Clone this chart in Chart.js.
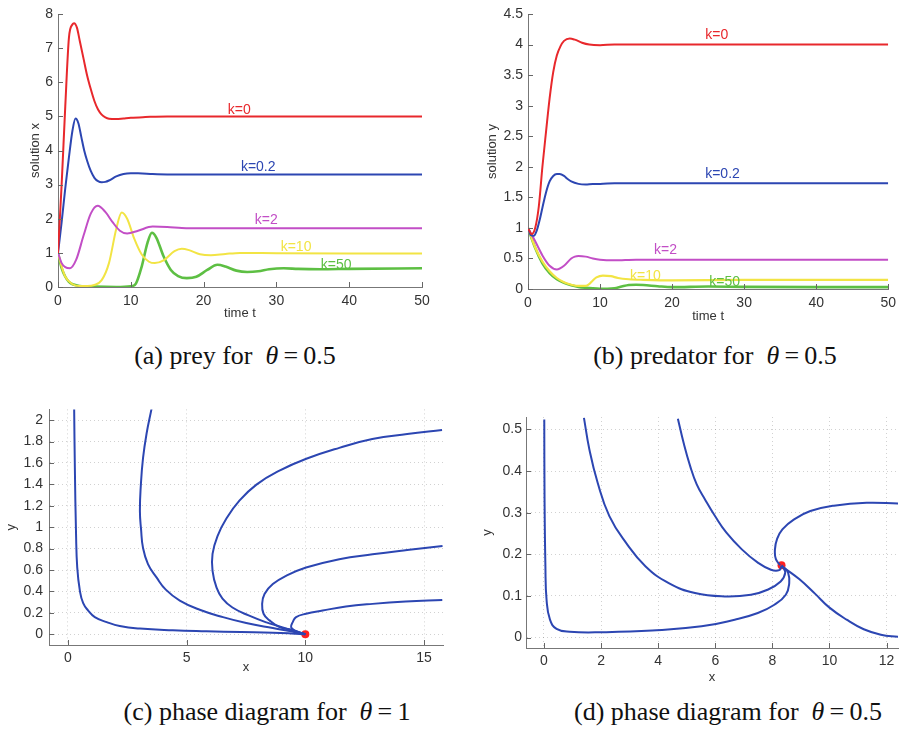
<!DOCTYPE html>
<html>
<head>
<meta charset="utf-8">
<script src="https://cdn.jsdelivr.net/npm/chart.js@4/dist/chart.umd.min.js"></script>
<style>
    body { margin: 0; background: #fff; }
    #page { position: relative; width: 902px; height: 729px; overflow: hidden; }
    .panel { position: absolute; }
    .caption {
        position: absolute; width: 420px; text-align: center;
        font-family: "Liberation Serif", "Times New Roman", serif;
        font-size: 26px; line-height: 26px; color: #111; white-space: nowrap;
    }
</style>
</head>
<body>
<div id="page">
    <canvas class="panel" id="chartA" width="450" height="330" style="left:0;top:0"></canvas>
    <canvas class="panel" id="chartB" width="452" height="330" style="left:450px;top:0"></canvas>
    <canvas class="panel" id="chartC" width="450" height="290" style="left:0;top:395px"></canvas>
    <canvas class="panel" id="chartD" width="452" height="290" style="left:450px;top:395px"></canvas>
    <div class="caption" style="left:25px;top:343px">(a) prey for&nbsp;&nbsp;<i>θ</i>&thinsp;=&thinsp;0.5</div>
    <div class="caption" style="left:505px;top:343px">(b) predator for&nbsp;&nbsp;<i>θ</i>&thinsp;=&thinsp;0.5</div>
    <div class="caption" style="left:57px;top:699px">(c) phase diagram for&nbsp;&nbsp;<i>θ</i>&thinsp;=&thinsp;1</div>
    <div class="caption" style="left:518px;top:699px">(d) phase diagram for&nbsp;&nbsp;<i>θ</i>&thinsp;=&thinsp;0.5</div>
</div>
<script>
// colours of the k curves
const RED = '#e8282c', BLUE = '#2c46b2', MAGENTA = '#c24ec6', YELLOW = '#f2e444', GREEN = '#5dbf43';

// tick values
const timeTicks = [0, 10, 20, 30, 40, 50];
const preyTicks = [0, 1, 2, 3, 4, 5, 6, 7, 8];
const predTicks = [0, 0.5, 1, 1.5, 2, 2.5, 3, 3.5, 4, 4.5];
const cXTicks = [0, 5, 10, 15];
const cYTicks = [0, 0.2, 0.4, 0.6, 0.8, 1, 1.2, 1.4, 1.6, 1.8, 2];
const dXTicks = [0, 2, 4, 6, 8, 10, 12];
const dYTicks = [0, 0.1, 0.2, 0.3, 0.4, 0.5];

// (a) prey x(t)
const preyT_k0 = [0, 0.5, 1, 1.5, 2, 2.2, 2.6, 3, 3.5, 4, 4.5, 5, 5.5, 6, 6.5, 7, 8, 9, 10, 12, 15, 20, 30, 40, 50];
const preyX_k0 = [1, 3.0, 5.3, 7.3, 7.7, 7.73, 7.6, 7.2, 6.7, 6.2, 5.8, 5.45, 5.2, 5.05, 4.97, 4.93, 4.92, 4.94, 4.96, 4.98, 5.0, 5.0, 5.0, 5.0, 5.0];
const preyT_k02 = [0, 0.5, 1, 1.5, 2, 2.4, 2.8, 3.2, 3.6, 4, 4.5, 5, 5.5, 6, 6.5, 7, 8, 9, 10, 11, 13, 15, 20, 30, 40, 50];
const preyX_k02 = [1, 1.9, 2.9, 3.8, 4.6, 4.94, 4.8, 4.4, 4.0, 3.7, 3.4, 3.2, 3.1, 3.07, 3.08, 3.12, 3.24, 3.31, 3.33, 3.33, 3.31, 3.3, 3.3, 3.3, 3.3, 3.3];
const preyT_k2 = [0, 0.5, 1, 1.65, 2.5, 3.5, 4.5, 5.45, 6.5, 7.5, 8.5, 9.5, 11, 13, 15, 17, 20, 30, 40, 50];
const preyX_k2 = [1, 0.7, 0.58, 0.55, 0.8, 1.5, 2.15, 2.38, 2.2, 1.9, 1.65, 1.57, 1.65, 1.77, 1.76, 1.73, 1.72, 1.72, 1.72, 1.72];
const preyT_k10 = [0, 0.5, 1, 2, 3, 4, 5, 6, 7, 8, 8.75, 9.5, 10.5, 11.5, 12.5, 13.3, 14.5, 16, 17, 18, 19.5, 21, 23, 25, 30, 40, 50];
const preyX_k10 = [1, 0.6, 0.3, 0.08, 0.03, 0.03, 0.06, 0.2, 0.7, 1.7, 2.18, 2.0, 1.4, 0.95, 0.74, 0.7, 0.78, 1.05, 1.12, 1.08, 0.96, 0.93, 0.97, 1.0, 0.99, 0.98, 0.98];
const preyT_k50 = [0, 0.5, 1, 1.5, 2, 3, 5, 8, 10, 10.7, 11.5, 12.3, 12.9, 13.5, 14.5, 15.5, 16.5, 17.7, 19, 20.5, 21.9, 23, 24.5, 26, 27.5, 29, 31, 33, 36, 40, 50];
const preyX_k50 = [1, 0.55, 0.3, 0.15, 0.08, 0.03, 0.01, 0.0, 0.02, 0.1, 0.6, 1.3, 1.59, 1.45, 0.9, 0.5, 0.32, 0.26, 0.3, 0.5, 0.65, 0.6, 0.48, 0.44, 0.46, 0.52, 0.55, 0.53, 0.52, 0.53, 0.55];

// (b) predator y(t)
const predT_k0 = [0, 0.5, 1, 1.5, 2, 2.5, 3, 3.5, 4, 4.5, 5, 5.8, 6.5, 7.5, 8.5, 10, 12, 15, 20, 30, 40, 50];
const predY_k0 = [1, 0.9, 1.0, 1.35, 2.0, 2.57, 3.12, 3.55, 3.82, 3.97, 4.06, 4.1, 4.08, 4.03, 4.0, 3.99, 4.0, 4.0, 4.0, 4.0, 4.0, 4.0];
const predT_k02 = [0, 0.4, 0.8, 1.2, 1.6, 2, 2.5, 3, 3.5, 4, 4.4, 5, 5.5, 6, 7, 8, 9, 10, 12, 15, 20, 30, 40, 50];
const predY_k02 = [1, 0.88, 0.87, 0.95, 1.12, 1.33, 1.58, 1.76, 1.85, 1.88, 1.88, 1.85, 1.8, 1.76, 1.72, 1.71, 1.72, 1.72, 1.73, 1.73, 1.73, 1.73, 1.73, 1.73];
const predT_k2 = [0, 1, 2, 3, 4, 5, 6, 6.5, 7, 8, 9, 10, 12, 15, 20, 30, 40, 50];
const predY_k2 = [1, 0.78, 0.55, 0.38, 0.32, 0.38, 0.5, 0.53, 0.54, 0.53, 0.5, 0.48, 0.47, 0.48, 0.48, 0.48, 0.48, 0.48];
const predT_k10 = [0, 1, 2, 3, 4, 5, 6, 7, 8, 8.5, 9, 9.5, 10.4, 11.5, 12.5, 14, 16, 20, 30, 40, 50];
const predY_k10 = [1, 0.68, 0.45, 0.29, 0.18, 0.11, 0.07, 0.05, 0.05, 0.08, 0.14, 0.19, 0.22, 0.21, 0.18, 0.16, 0.15, 0.14, 0.15, 0.15, 0.15];
const predT_k50 = [0, 1, 2, 3, 4, 5, 6, 7, 8, 9, 10, 11, 12, 13, 14, 15, 16, 18, 20, 25, 30, 40, 50];
const predY_k50 = [1, 0.67, 0.42, 0.26, 0.16, 0.1, 0.06, 0.035, 0.02, 0.01, 0.005, 0.005, 0.012, 0.04, 0.065, 0.07, 0.065, 0.045, 0.03, 0.04, 0.035, 0.03, 0.03];

// curve labels: text, t, value, colour
const preyLabels = [['k=0', 24.9, 5.19, RED], ['k=0.2', 27.5, 3.52, BLUE], ['k=2', 28.6, 1.96, MAGENTA], ['k=10', 32.7, 1.17, YELLOW], ['k=50', 38.2, 0.65, GREEN]];
const predLabels = [['k=0', 26.2, 4.16, RED], ['k=0.2', 27, 1.88, BLUE], ['k=2', 19.1, 0.63, MAGENTA], ['k=10', 16.3, 0.21, YELLOW], ['k=50', 27.3, 0.12, GREEN]];

// (c) phase diagram, theta = 1
const c1x = [0.26, 0.29, 0.34, 0.39, 0.5, 0.64, 0.85, 1.13, 1.63, 2.18, 3.03, 4.42, 5.83, 7.3, 8.63, 9.4, 10];
const c1y = [2.105, 1.549, 0.932, 0.623, 0.407, 0.29, 0.222, 0.16, 0.114, 0.077, 0.053, 0.037, 0.028, 0.021, 0.015, 0.008, 0];
const c2x = [3.52, 3.31, 3.16, 3.07, 3.03, 3.08, 3.16, 3.37, 3.73, 4.12, 4.71, 5.55, 6.53, 7.51, 8.63, 9.33, 10];
const c2y = [2.105, 1.873, 1.642, 1.395, 1.148, 0.977, 0.808, 0.655, 0.531, 0.417, 0.315, 0.229, 0.16, 0.105, 0.058, 0.031, 0];
const c3x = [15.76, 14.29, 12.82, 11.43, 10.04, 8.91, 7.94, 7.23, 6.68, 6.3, 6.09, 6.09, 6.26, 6.51, 6.93, 7.61, 8.36, 8.91, 9.45, 10];
const c3y = [1.907, 1.87, 1.824, 1.741, 1.639, 1.528, 1.398, 1.25, 1.083, 0.917, 0.75, 0.593, 0.435, 0.333, 0.25, 0.176, 0.111, 0.074, 0.037, 0];
const c4x = [15.78, 14.29, 12.83, 11.43, 10.03, 9.19, 8.63, 8.28, 8.18, 8.24, 8.49, 8.91, 9.47, 10];
const c4y = [0.824, 0.787, 0.747, 0.701, 0.623, 0.546, 0.469, 0.377, 0.284, 0.192, 0.13, 0.068, 0.037, 0];
const c5x = [15.77, 14.23, 12.83, 11.71, 10.73, 10.03, 9.61, 9.47, 9.4, 9.54, 9.75, 10];
const c5y = [0.321, 0.306, 0.284, 0.259, 0.222, 0.192, 0.16, 0.114, 0.068, 0.037, 0.014, 0];
const cEquil = [10, 0];

// (d) phase diagram, theta = 0.5
const dAx = [0.01, 0.02, 0.05, 0.09, 0.21, 0.44, 0.9, 2.06, 3.79, 5.52, 6.68, 7.49, 8.07, 8.47, 8.59, 8.55, 8.41];
const dAy = [0.524, 0.332, 0.171, 0.091, 0.043, 0.021, 0.014, 0.013, 0.017, 0.027, 0.043, 0.059, 0.079, 0.103, 0.131, 0.156, 0.168];
const dBx = [1.4, 1.59, 1.88, 2.29, 2.87, 3.56, 4.37, 5.29, 6.33, 7.25, 7.83, 8.29, 8.45, 8.35];
const dBy = [0.528, 0.452, 0.372, 0.292, 0.228, 0.171, 0.131, 0.107, 0.099, 0.103, 0.115, 0.135, 0.156, 0.171];
const dCx = [4.69, 4.89, 5.12, 5.35, 5.64, 5.99, 6.39, 6.93, 7.49, 7.95, 8.24, 8.32];
const dCy = [0.526, 0.468, 0.412, 0.368, 0.332, 0.292, 0.252, 0.212, 0.18, 0.163, 0.162, 0.172];
const dDx = [12.41, 11.3, 10.15, 9.33, 8.76, 8.35, 8.16, 8.09, 8.12, 8.27];
const dDy = [0.322, 0.324, 0.317, 0.304, 0.284, 0.26, 0.236, 0.212, 0.189, 0.174];
const dEx = [8.32, 8.41, 8.95, 9.5, 10.0, 10.6, 11.2, 11.8, 12.41];
const dEy = [0.174, 0.168, 0.14, 0.105, 0.072, 0.043, 0.02, 0.007, 0.002];
const dEquil = [8.32, 0.174];

const SANS = '"Liberation Sans", Arial, sans-serif';
const TICK_COLOR = '#333';

function toPts(xs, ys) {
    return xs.map((x, i) => ({ x: x, y: ys[i] }));
}

function fmt(v) {
    return String(+v.toFixed(2));
}

// MATLAB style tick marks pointing into the plot
const innerTicks = {
    id: 'innerTicks',
    afterDraw(chart) {
        const ctx = chart.ctx;
        const area = chart.chartArea;
        const xs = chart.scales.x, ys = chart.scales.y;
        ctx.save();
        ctx.strokeStyle = '#666';
        ctx.lineWidth = 1;
        ctx.beginPath();
        xs.ticks.forEach(t => {
            const p = Math.round(xs.getPixelForValue(t.value)) + 0.5;
            ctx.moveTo(p, area.bottom);
            ctx.lineTo(p, area.bottom - 5);
        });
        ys.ticks.forEach(t => {
            const p = Math.round(ys.getPixelForValue(t.value)) + 0.5;
            ctx.moveTo(area.left, p);
            ctx.lineTo(area.left + 5, p);
        });
        ctx.stroke();
        ctx.restore();
    }
};

// k=... labels written next to the curves
const curveLabels = {
    id: 'curveLabels',
    afterDatasetsDraw(chart, args, opts) {
        const items = opts.items || [];
        const ctx = chart.ctx;
        ctx.save();
        ctx.font = '14px ' + SANS;
        ctx.textAlign = 'center';
        ctx.textBaseline = 'middle';
        items.forEach(it => {
            ctx.fillStyle = it[3];
            ctx.fillText(it[0], chart.scales.x.getPixelForValue(it[1]), chart.scales.y.getPixelForValue(it[2]));
        });
        ctx.restore();
    }
};

function line(xs, ys, color, width, mono) {
    return {
        data: toPts(xs, ys),
        showLine: true,
        borderColor: color,
        borderWidth: width,
        pointRadius: 0,
        tension: mono ? 0.4 : 0.45,
        cubicInterpolationMode: mono ? 'monotone' : 'default'
    };
}

function dot(p) {
    return {
        data: [{ x: p[0], y: p[1] }],
        showLine: false,
        pointRadius: 4,
        pointBackgroundColor: '#ff2020',
        pointBorderColor: '#ff2020',
        pointBorderWidth: 0
    };
}

function axis(a, font, grid) {
    return {
        type: 'linear',
        min: a.min, max: a.max,
        afterFit: s => {
            if (s.isHorizontal()) s.height = a.size; else s.width = a.size;
        },
        afterBuildTicks: s => { s.ticks = a.ticks.map(v => ({ value: v })); },
        ticks: {
            maxRotation: 0, autoSkip: false,
            padding: a.pad, color: TICK_COLOR,
            font: { family: SANS, size: font }, callback: fmt
        },
        grid: {
            display: grid, drawOnChartArea: true, drawTicks: false,
            color: 'rgba(0,0,0,0.18)'
        },
        border: { display: true, color: '#777', width: 1, dash: [1, 3] },
        title: {
            display: true, text: a.title, color: TICK_COLOR,
            font: { family: SANS, size: 13 },
            padding: { top: a.titleTop || 0, bottom: a.titleBottom || 0 }
        }
    };
}

function makeChart(id, cfg) {
    const ctx = document.getElementById(id).getContext('2d');
    return new Chart(ctx, {
        type: 'scatter',
        data: { datasets: cfg.datasets },
        plugins: [innerTicks, curveLabels],
        options: {
            responsive: false,
            animation: false,
            events: [],
            layout: { padding: cfg.padding },
            plugins: {
                legend: { display: false },
                tooltip: { enabled: false },
                curveLabels: { items: cfg.labels || [] }
            },
            scales: {
                x: axis(cfg.x, cfg.font, !!cfg.grid),
                y: axis(cfg.y, cfg.font, !!cfg.grid)
            }
        }
    });
}

makeChart('chartA', {
    padding: { left: 0, right: 28, top: 14, bottom: 0 },
    font: 14,
    x: { min: 0, max: 50, ticks: timeTicks, size: 43, pad: 6, title: 'time t', titleBottom: 9 },
    y: { min: 0, max: 8, ticks: preyTicks, size: 58, pad: 5, title: 'solution x', titleTop: 28 },
    labels: preyLabels,
    datasets: [
        line(preyT_k0, preyX_k0, RED, 2, true),
        line(preyT_k02, preyX_k02, BLUE, 2, true),
        line(preyT_k2, preyX_k2, MAGENTA, 2, true),
        line(preyT_k10, preyX_k10, YELLOW, 2, true),
        line(preyT_k50, preyX_k50, GREEN, 2.6, true)
    ]
});

makeChart('chartB', {
    padding: { left: 0, right: 11, top: 14, bottom: 0 },
    font: 14,
    x: { min: 0, max: 50, ticks: timeTicks, size: 41, pad: 6, title: 'time t', titleBottom: 6 },
    y: { min: 0, max: 4.5, ticks: predTicks, size: 78, pad: 5, title: 'solution y', titleTop: 35 },
    labels: predLabels,
    datasets: [
        line(predT_k0, predY_k0, RED, 2, true),
        line(predT_k02, predY_k02, BLUE, 2, true),
        line(predT_k2, predY_k2, MAGENTA, 2, true),
        line(predT_k10, predY_k10, YELLOW, 2.2, true),
        line(predT_k50, predY_k50, GREEN, 2.6, true)
    ]
});

makeChart('chartC', {
    padding: { left: 0, right: 7, top: 12, bottom: 0 },
    font: 14,
    grid: true,
    x: { min: -0.8, max: 15.8, ticks: cXTicks, size: 40, pad: 5, title: 'x', titleBottom: 10 },
    y: { min: -0.1, max: 2.1, ticks: cYTicks, size: 49, pad: 6, title: 'y', titleTop: 4 },
    datasets: [
        line(c1x, c1y, BLUE, 2, false),
        line(c2x, c2y, BLUE, 2, false),
        line(c3x, c3y, BLUE, 2, false),
        line(c4x, c4y, BLUE, 2, false),
        line(c5x, c5y, BLUE, 2, false),
        dot(cEquil)
    ]
});

makeChart('chartD', {
    padding: { left: 0, right: 0, top: 22, bottom: 0 },
    font: 14,
    grid: true,
    x: { min: -0.63, max: 12.4, ticks: dXTicks, size: 37, pad: 5, title: 'x', titleBottom: 0 },
    y: { min: -0.025, max: 0.53, ticks: dYTicks, size: 76, pad: 4, title: 'y', titleTop: 30 },
    datasets: [
        line(dAx, dAy, BLUE, 2, false),
        line(dBx, dBy, BLUE, 2, false),
        line(dCx, dCy, BLUE, 2, false),
        line(dDx, dDy, BLUE, 2, false),
        line(dEx, dEy, BLUE, 2, false),
        dot(dEquil)
    ]
});
</script>
</body>
</html>
